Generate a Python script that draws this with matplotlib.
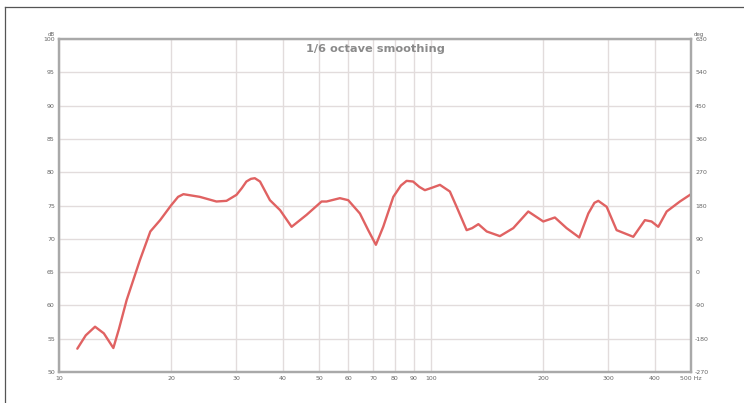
import matplotlib
matplotlib.use("Agg")
import matplotlib.pyplot as plt
from matplotlib.lines import Line2D

# Data
freq_hz = [11.2, 11.8, 12.5, 13.2, 14.0, 14.5, 15.2, 16.5, 17.6, 18.7, 20.0, 20.9, 21.6,
           23.9, 26.5, 28.2, 30.0, 31.0, 31.9, 32.8, 33.6, 34.7, 36.9, 39.3, 42.2, 46.3,
           50.8, 52.4, 56.9, 59.9, 64.4, 67.8, 71.1, 74.4, 79.2, 83.0, 86.0, 89.5, 93.0,
           96.3, 101.0, 105.7, 112.4, 117.2, 124.7, 129.0, 134.1, 141.2, 153.2, 166.4,
           182.6, 200.4, 215.3, 231.5, 250.4, 264.8, 275.0, 281.7, 296.7, 315.5, 349.8,
           375.9, 391.7, 408.3, 430.1, 466.8, 500.0]
spl_db = [53.5, 55.5, 56.8, 55.8, 53.6, 56.5, 60.8, 66.8, 71.1, 72.8, 75.0, 76.3, 76.7,
          76.3, 75.6, 75.7, 76.6, 77.6, 78.6, 79.0, 79.1, 78.6, 75.8, 74.3, 71.8, 73.6,
          75.6, 75.6, 76.1, 75.8, 73.8, 71.3, 69.1, 71.8, 76.3, 78.0, 78.7, 78.6, 77.8,
          77.3, 77.7, 78.1, 77.1, 74.8, 71.3, 71.6, 72.2, 71.1, 70.4, 71.6,
          74.1, 72.6, 73.2, 71.6, 70.2, 73.8, 75.4, 75.7, 74.8, 71.3, 70.3,
          72.8, 72.6, 71.8, 74.1, 75.6, 76.7]

x_ticks = [10, 20, 30, 40, 50, 60, 70, 80, 90, 100, 200, 300, 400, 500]
x_tick_labels = ["10", "20", "30", "40", "50", "60", "70", "80", "90", "100", "200", "300", "400", "500 Hz"]
db_ticks = [50, 55, 60, 65, 70, 75, 80, 85, 90, 95, 100]
deg_ticks = [-270, -180, -90, 0, 90, 180, 270, 360, 450, 540, 630]
title_text = "1/6 octave smoothing"

grid_c = "#e2dcdc"
spine_c = "#a9a9a9"
text_c = "#666666"

fig = plt.figure(figsize=(7.44, 4.03), dpi=100)
ax = fig.add_axes([59/744, 1-372/403, 632/744, 333/403])
ax.set_xscale("log")
ax.set_xlim(10, 500)
ax.set_ylim(50, 100)
ax.set_xticks(x_ticks)
ax.set_xticklabels(x_tick_labels)
ax.xaxis.set_minor_locator(matplotlib.ticker.NullLocator())
ax.set_yticks(db_ticks)
ax.set_yticklabels([str(t) for t in db_ticks])
ax.grid(True, color=grid_c, lw=1.0)
ax.tick_params(length=0, labelsize=4.5, labelcolor=text_c, pad=3)
for s in ax.spines.values():
    s.set_color(spine_c)
    s.set_linewidth(1.6)

ax2 = ax.twinx()
ax2.set_ylim(-270, 630)
ax2.set_yticks(deg_ticks)
ax2.set_yticklabels([str(t) for t in deg_ticks])
ax2.tick_params(length=0, labelsize=4.5, labelcolor=text_c, pad=3)
for s in ax2.spines.values():
    s.set_color(spine_c)
    s.set_linewidth(1.6)

ax.plot(freq_hz, spl_db, color="#e06262", lw=1.7, solid_capstyle="round",
        solid_joinstyle="round", zorder=3)

ax.text(0.5, 0.985, title_text, transform=ax.transAxes, ha="center", va="top",
        fontsize=8.2, fontweight="bold", color="#8a8a8a")
ax.text(-0.012, 1.005, "dB", transform=ax.transAxes, ha="center", va="bottom",
        fontsize=4, color=text_c)
ax.text(1.012, 1.005, "deg", transform=ax.transAxes, ha="center", va="bottom",
        fontsize=4, color=text_c)

# outer frame
fig.add_artist(Line2D([5/744, 1.0], [1-7/403, 1-7/403], transform=fig.transFigure,
                      color="#555555", lw=0.9))
fig.add_artist(Line2D([5/744, 5/744], [0, 1-7/403], transform=fig.transFigure,
                      color="#555555", lw=0.9))

fig.savefig("out.png", dpi=100, facecolor="white")
